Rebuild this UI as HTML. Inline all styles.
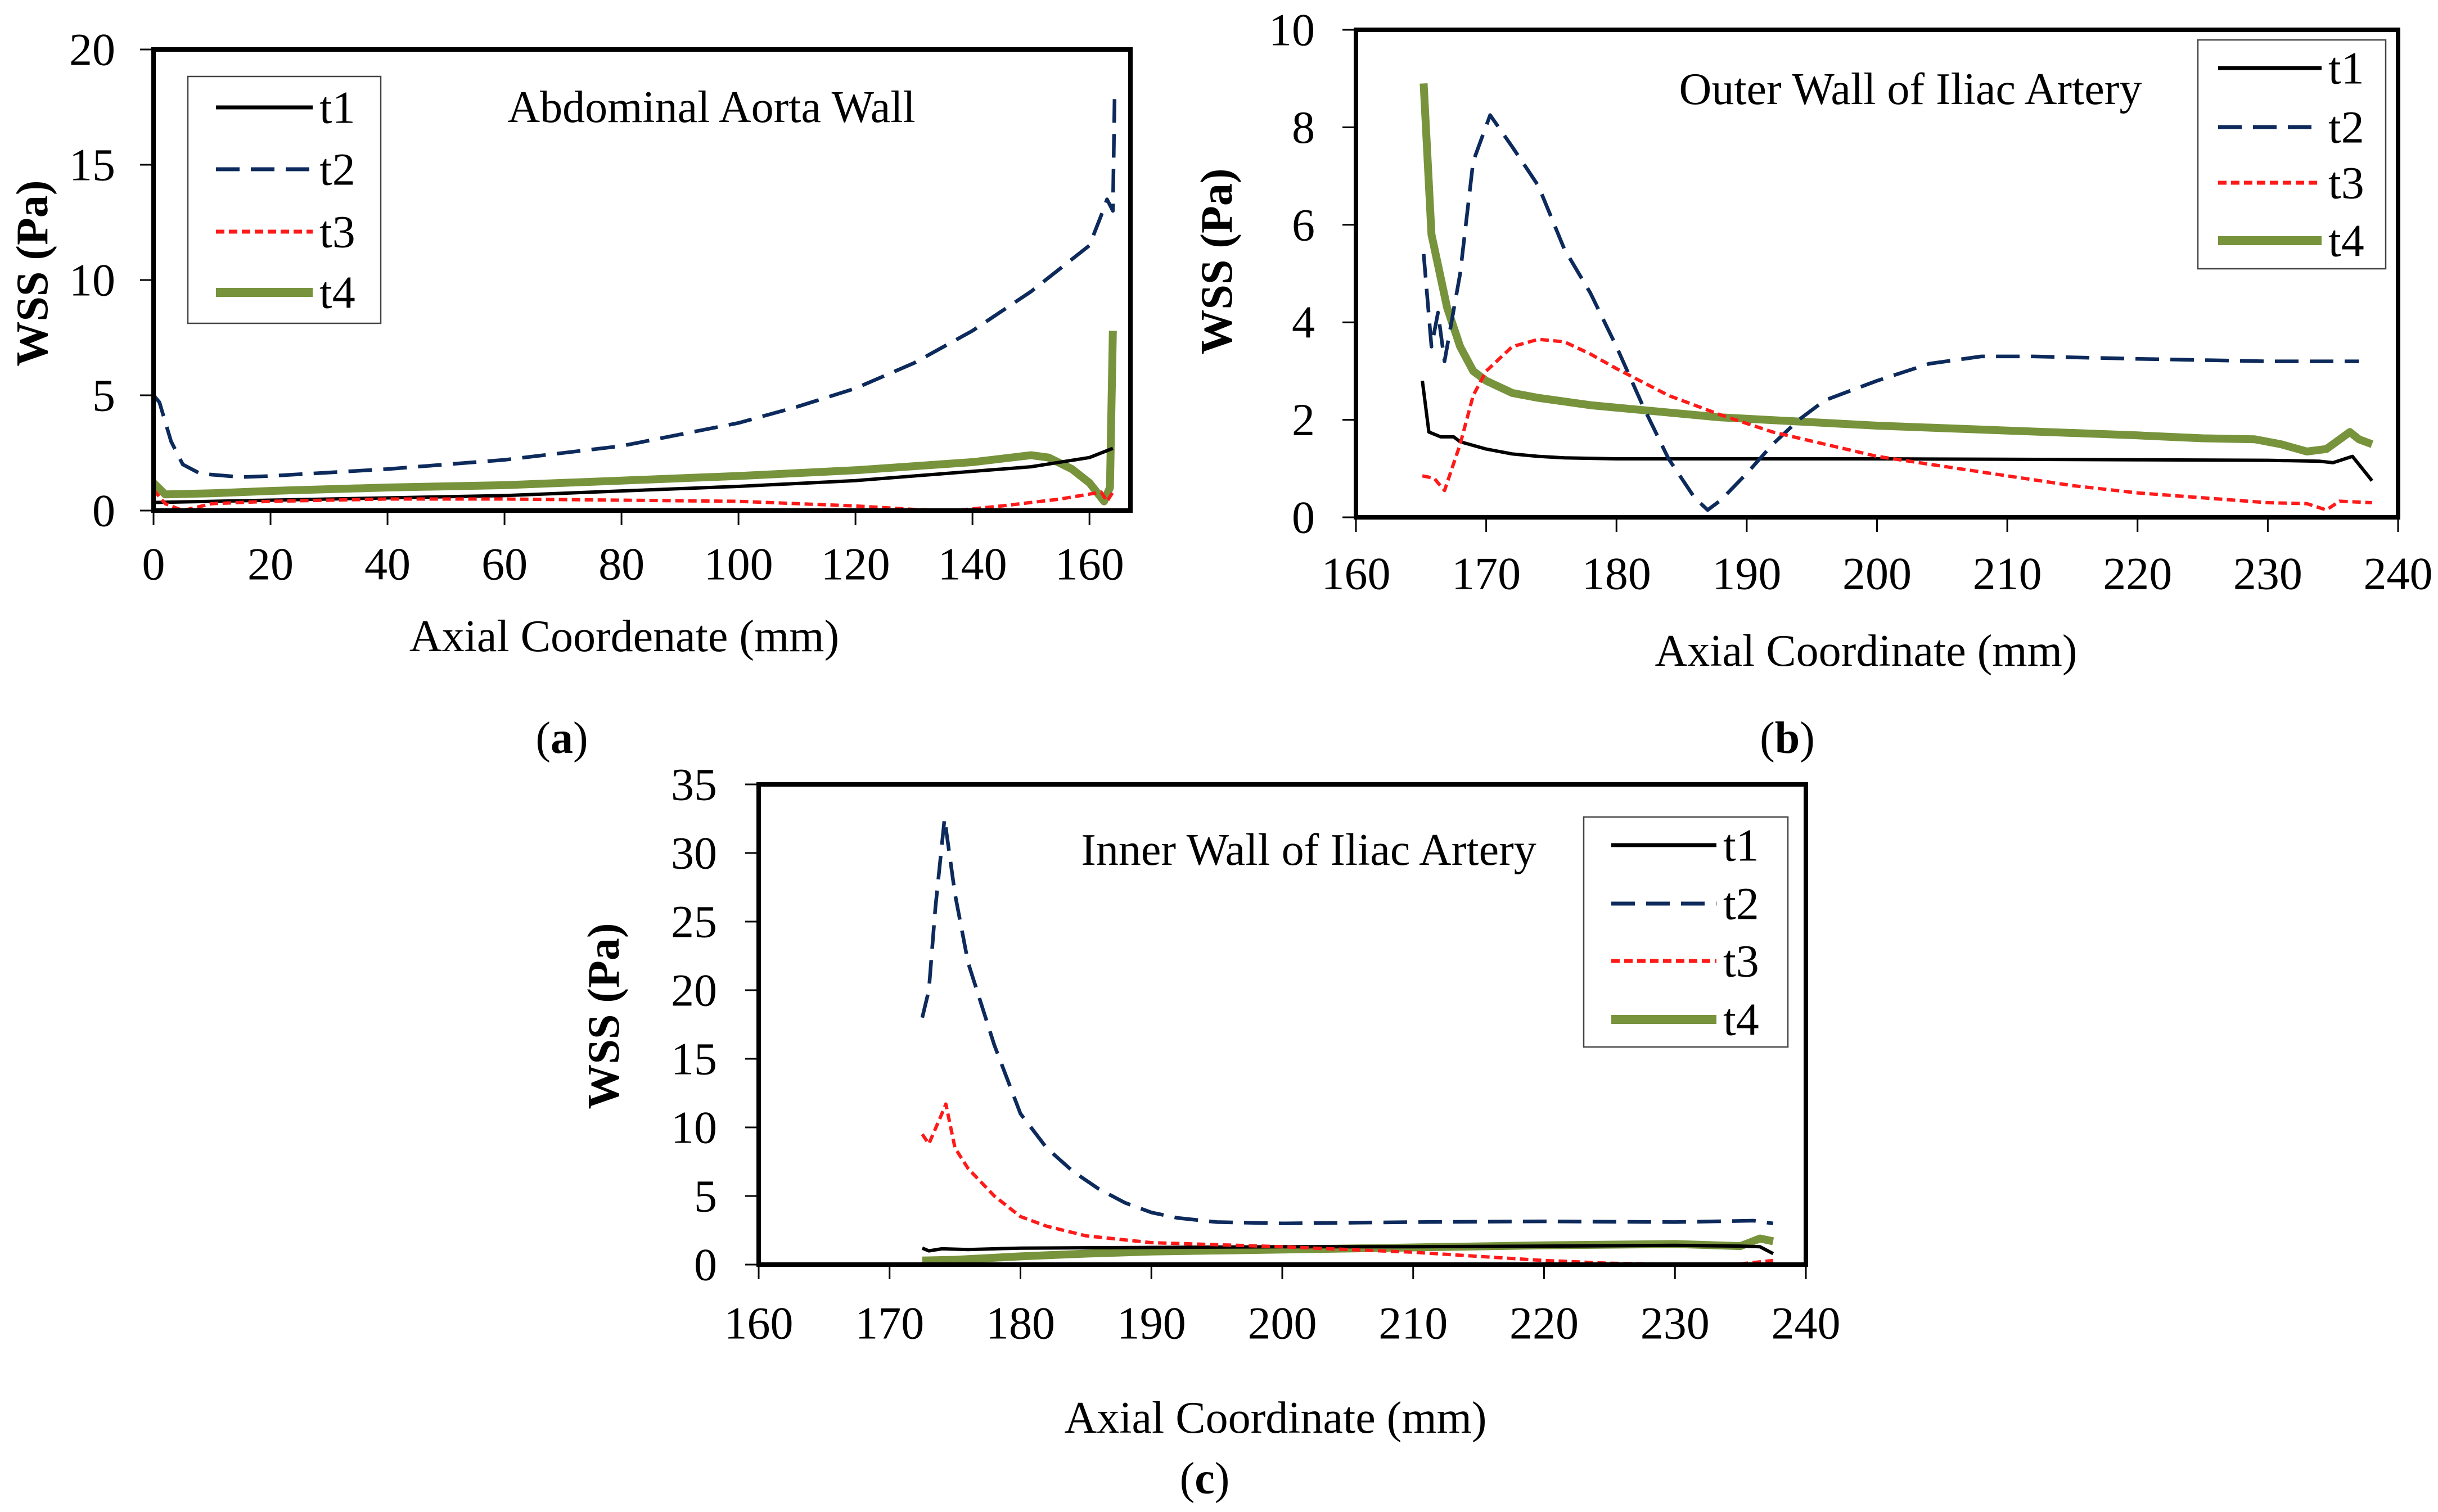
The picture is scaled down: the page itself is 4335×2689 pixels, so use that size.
<!DOCTYPE html>
<html><head><meta charset="utf-8"><style>
html,body{margin:0;padding:0;background:#fff}
svg{display:block}
svg text{font-family:"Liberation Serif","DejaVu Serif",serif !important;fill:#000}
</style></head><body>
<svg id="fig" xmlns="http://www.w3.org/2000/svg" width="4335" height="2689" viewBox="0 0 4335 2689" font-family="Liberation Serif, DejaVu Serif, serif"></svg>
<script>
// Panel (a) data
const aT1x=[0,10,20,40,60,80,100,120,140,150,160,163,164];
const aT1y=[0.35,0.4,0.45,0.55,0.65,0.85,1.05,1.3,1.7,1.9,2.3,2.6,2.7];
const aT2x=[0,1,3,5,8,15,20,40,60,80,100,110,120,130,140,150,160,162,163,164,164.3];
const aT2y=[5,4.7,3,2,1.6,1.45,1.5,1.8,2.2,2.8,3.8,4.5,5.3,6.4,7.8,9.5,11.5,12.8,13.5,13,18];
const aT3x=[0,2,5,10,20,40,60,80,100,120,130,137,145,155,162,163,164];
const aT3y=[0.9,0.3,0,0.3,0.4,0.5,0.5,0.45,0.4,0.2,0.05,0,0.2,0.5,0.8,0.4,0.8];
const aT4x=[0,2,10,20,40,60,80,100,120,140,150,153,157,160,162.5,163.5,164];
const aT4y=[1.2,0.7,0.75,0.85,1.0,1.1,1.3,1.5,1.75,2.1,2.4,2.3,1.8,1.2,0.4,1.0,7.8];
const aXTicks=[0,20,40,60,80,100,120,140,160];
const aYTicks=[0,5,10,15,20];
// Panel (b) data
const bT1x=[165.1,165.6,166.5,167.5,168,170,172,174,176,180,200,220,230,234,235,236.5,238];
const bT1y=[2.8,1.75,1.65,1.65,1.55,1.4,1.3,1.25,1.22,1.2,1.2,1.18,1.17,1.15,1.12,1.25,0.75];
const bT2x=[165.2,165.8,166.3,166.8,168,169,170.3,172,174,176,178,180,182,184,186,187,188,190,192,194,196,200,204,208,212,220,230,237];
const bT2y=[5.4,3.5,4.2,3.2,5,7.3,8.25,7.6,6.8,5.5,4.6,3.5,2.3,1.2,0.4,0.15,0.35,0.9,1.5,2.0,2.4,2.8,3.15,3.3,3.3,3.25,3.2,3.2];
const bT3x=[165.1,166,166.8,168,169,170,172,174,176,178,180,184,188,192,196,200,205,210,215,220,225,230,233,234.5,235.5,238];
const bT3y=[0.85,0.8,0.55,1.5,2.5,3.0,3.5,3.65,3.6,3.35,3.05,2.5,2.1,1.75,1.5,1.25,1.05,0.85,0.65,0.5,0.4,0.3,0.28,0.15,0.33,0.3];
const bT4x=[165.2,165.8,167,168,169,170,172,174,178,182,188,195,200,210,220,225,229,231,233,234.5,236.3,237,238];
const bT4y=[8.9,5.8,4.3,3.5,3.0,2.8,2.55,2.45,2.3,2.2,2.05,1.95,1.88,1.78,1.68,1.62,1.6,1.5,1.35,1.4,1.75,1.6,1.5];
const bXTicks=[160,170,180,190,200,210,220,230,240];
const bYTicks=[0,2,4,6,8,10];
// Panel (c) data
const cT1x=[172.5,173,174,176,180,190,200,210,220,230,235,236.5,237.5];
const cT1y=[1.2,1.0,1.15,1.1,1.2,1.25,1.3,1.3,1.35,1.4,1.35,1.3,0.8];
const cT2x=[172.5,173,173.5,174.2,175,176,178,180,182,184,186,188,190,192,195,200,210,220,230,236,237.5];
const cT2y=[18,20,26,32.5,27,22,16,11,8.5,6.8,5.5,4.5,3.8,3.4,3.1,3.0,3.1,3.15,3.1,3.2,3.0];
const cT3x=[172.5,173,174,174.3,175,176,178,180,182,185,190,195,200,205,210,215,220,225,230,235,237.5];
const cT3y=[9.5,8.8,11,11.7,8.5,7,5,3.5,2.8,2.1,1.6,1.45,1.3,1.1,0.9,0.6,0.3,0.1,0.02,0.05,0.3];
const cT4x=[172.5,175,180,185,190,200,210,220,230,235,236.5,237.5];
const cT4y=[0.3,0.35,0.6,0.8,0.95,1.1,1.25,1.4,1.5,1.35,1.9,1.7];
const cXTicks=[160,170,180,190,200,210,220,230,240];
const cYTicks=[0,5,10,15,20,25,30,35];
const seriesNames=['t1','t2','t3','t4'];

const NS='http://www.w3.org/2000/svg';
const svg=document.getElementById('fig');
const FONT='"Liberation Serif","DejaVu Serif",serif';
function mk(tag,attrs,parent){const e=document.createElementNS(NS,tag);for(const k in attrs)e.setAttribute(k,attrs[k]);if(tag==='text')e.setAttribute('font-family',FONT);(parent||svg).appendChild(e);return e;}
const styles=[
 {stroke:'#000',w:6,dash:'',lw:7},
 {stroke:'#0d2a5c',w:6.5,dash:'42 20',lw:7},
 {stroke:'#ff1a1a',w:6,dash:'15 8',lw:7},
 {stroke:'#77933c',w:14,dash:'',lw:16}
];
function panel(p){
 const g=mk('g',{});
 
 
 const sx=v=>p.L+(v-p.x0)/(p.x1-p.x0)*(p.R-p.L);
 const sy=v=>p.B-(v-p.y0)/(p.y1-p.y0)*(p.B-p.T);
 p.xt.forEach(t=>{
  const l=mk('line',{x1:sx(t),x2:sx(t),y1:p.B,y2:p.B+26,stroke:'#000','stroke-width':3},g);
  
  
  const tx=mk('text',{x:sx(t),y:p.xlY,'font-size':82,'text-anchor':'middle','dominant-baseline':'central'},g);
  tx.textContent=t;
  
  
 });
 p.yt.forEach(t=>{
  const l=mk('line',{x1:p.L-24,x2:p.L,y1:sy(t),y2:sy(t),stroke:'#000','stroke-width':3},g);
  
  
  const tx=mk('text',{x:p.ylX,y:sy(t),'font-size':82,'text-anchor':'end','dominant-baseline':'central'},g);
  tx.textContent=t;
  
  
 });
 const clipId='clip'+p.id;
 const cp=mk('clipPath',{id:clipId},g);
 mk('rect',{x:p.L,y:p.T-10,width:p.R-p.L,height:p.B-p.T+10},cp);
 [3,0,1,2].forEach(i=>{
  const xs=p.data[i][0],ys=p.data[i][1],s=styles[i];
  const d=xs.map((x,j)=>(j?'L':'M')+sx(x).toFixed(1)+' '+sy(ys[j]).toFixed(1)).join(' ');
  const path=mk('path',{d:d,fill:'none',stroke:s.stroke,'stroke-width':s.w,'stroke-dasharray':s.dash,'stroke-linejoin':'round','clip-path':'url(#'+clipId+')'},g);
  
  
 });
 const fr=mk('rect',{x:p.L,y:p.T,width:p.R-p.L,height:p.B-p.T,fill:'none',stroke:'#000','stroke-width':8},g);
 
 
 const lg=mk('g',{},g);
 
 
 mk('rect',{x:p.lg[0],y:p.lg[1],width:p.lg[2]-p.lg[0],height:p.lg[3]-p.lg[1],fill:'#fff',stroke:'#444','stroke-width':2.5},lg);
 seriesNames.forEach((n,i)=>{
  const s=styles[i],y=p.lgY[i];
  const e=mk('g',{},lg);
  
  
  mk('line',{x1:p.lgL[0],x2:p.lgL[1],y1:y,y2:y,stroke:s.stroke,'stroke-width':s.lw,'stroke-dasharray':s.dash},e);
  const t=mk('text',{x:p.lgL[1]+12,y:y,'font-size':82,'dominant-baseline':'central'},e);
  t.textContent=n;
 });
 const ti=mk('text',{x:p.title[1],y:p.title[2],'font-size':80,'text-anchor':'middle','dominant-baseline':'central'},g);
 ti.textContent=p.title[0];
 
 
 const xa=mk('text',{x:p.xa[1],y:p.xa[2],'font-size':80,'text-anchor':'middle','dominant-baseline':'central'},g);
 xa.textContent=p.xa[0];
 
 
 const ya=mk('text',{x:0,y:0,'font-size':80,'font-weight':'bold','text-anchor':'middle','dominant-baseline':'central',transform:'translate('+p.ya[0]+','+p.ya[1]+') rotate(-90)'},g);
 ya.textContent='WSS (Pa)';
 
 
 const cap=mk('text',{x:p.cap[0],y:p.cap[1],'font-size':80,'text-anchor':'middle','dominant-baseline':'central'},g);
 cap.innerHTML='(<tspan font-weight="bold">'+p.id+'</tspan>)';
 
 
}
panel({id:'a',L:273,T:88,R:2010,B:908,x0:0,x1:167,y0:0,y1:20,xt:aXTicks,yt:aYTicks,xlY:1003,ylX:205,
 data:[[aT1x,aT1y],[aT2x,aT2y],[aT3x,aT3y],[aT4x,aT4y]],
 lg:[334,136,677,575],lgY:[191,301,412,520],lgL:[384,556],
 title:['Abdominal Aorta Wall',1265,191],xa:['Axial Coordenate (mm)',1110,1132],ya:[58,486],cap:[999,1313]});
panel({id:'b',L:2411,T:53,R:4264,B:920,x0:160,x1:240,y0:0,y1:10,xt:bXTicks,yt:bYTicks,xlY:1020,ylX:2338,
 data:[[bT1x,bT1y],[bT2x,bT2y],[bT3x,bT3y],[bT4x,bT4y]],
 lg:[3908,71,4242,478],lgY:[121,226,325,428],lgL:[3944,4128],
 title:['Outer Wall of Iliac Artery',3397,159],xa:['Axial Coordinate (mm)',3318,1158],ya:[2164,465],cap:[3178,1313]});
panel({id:'c',L:1349,T:1395,R:3211,B:2249,x0:160,x1:240,y0:0,y1:35,xt:cXTicks,yt:cYTicks,xlY:2353,ylX:1275,
 data:[[cT1x,cT1y],[cT2x,cT2y],[cT3x,cT3y],[cT4x,cT4y]],
 lg:[2816,1453,3179,1862],lgY:[1503,1607,1709,1813],lgL:[2865,3052],
 title:['Inner Wall of Iliac Artery',2327,1512],xa:['Axial Coordinate (mm)',2268,2522],ya:[1074,1807],cap:[2142,2630]});
</script>
</body></html>
